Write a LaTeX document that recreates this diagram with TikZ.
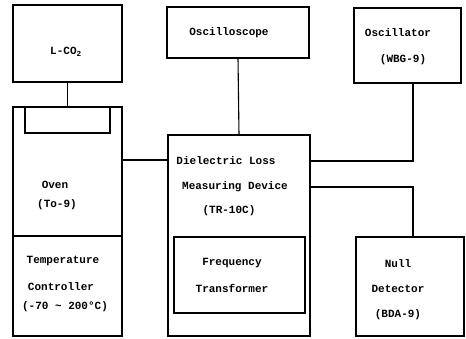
\documentclass[tikz,border=0pt]{standalone}
\usepackage{fontspec}
\setmonofont{Liberation Mono}
\usetikzlibrary{math}
\tikzset{blk/.style={draw, line width=1.1pt, inner sep=0pt, outer sep=0pt, anchor=north west},
	lbl/.style={font=\ttfamily\bfseries\fontsize{11}{13}\selectfont, inner sep=0pt},
	wire/.style={line width=1.1pt}}

\begin{document}
\begin{tikzpicture}[x=1pt,y=-1pt]
	\tikzmath{\ovy=160; \scy=161; \ndy=187; \rx=413;}
	\useasboundingbox (0,0) rectangle (466,338);
	% boxes
	\node[blk, minimum width=109pt, minimum height=77pt] (lco) at (13,5) {};
	\node[blk, minimum width=142pt, minimum height=51pt] (scope) at (167,7) {};
	\node[blk, minimum width=107pt, minimum height=75pt] (osc) at (354,8) {};
	\node[blk, minimum width=109pt, minimum height=129pt] (oven) at (13,107) {};
	\node[blk, minimum width=85pt, minimum height=26pt] (lid) at (25,107) {};
	\node[blk, minimum width=109pt, minimum height=100pt] (temp) at (13,236) {};
	\node[blk, minimum width=142pt, minimum height=201pt] (dlm) at (168,135) {};
	\node[blk, minimum width=131pt, minimum height=76pt] (freq) at (174,237) {};
	\node[blk, minimum width=108pt, minimum height=99pt] (null) at (356,237) {};
	% texts
	\node[lbl] (tlco) at (66,52) {L-CO\textsubscript{2}};
	\node[lbl] (tscope) at (229,33) {Oscilloscope};
	\node[lbl] (tosc) at (398,33) {Oscillator};
	\node[lbl] (tosc2) at (403,60) {(WBG-9)};
	\node[lbl] (toven) at (55,185) {Oven};
	\node[lbl] (toven2) at (57,205) {(To-9)};
	\node[lbl] (ttemp) at (63,261) {Temperature};
	\node[lbl] (ttemp2) at (61,287) {Controller};
	\node[lbl] (ttemp3) at (65,307) {(-70 \textasciitilde{} 200°C)};
	\node[lbl] (tdlm) at (226,161) {Dielectric Loss};
	\node[lbl] (tdlm2) at (235,187) {Measuring Device};
	\node[lbl] (tdlm3) at (229,211) {(TR-10C)};
	\node[lbl] (tfreq) at (232,263) {Frequency};
	\node[lbl] (tfreq2) at (232,288) {Transformer};
	\node[lbl] (tnull) at (398,264) {Null};
	\node[lbl] (tnull2) at (398,289) {Detector};
	\node[lbl] (tnull3) at (398,315) {(BDA-9)};
	% connections
	\draw[wire] (lco.south) -- (oven.north);
	\draw[wire] (scope.south) -- (dlm.north);
	\draw[wire] (oven.east |- 0,\ovy) -- (dlm.west |- 0,\ovy);
	\draw[wire] (osc.south -| \rx,0) |- (dlm.east |- 0,\scy);
	\draw[wire] (dlm.east |- 0,\ndy) -| (null.north -| \rx,0);
\end{tikzpicture}
\end{document}
